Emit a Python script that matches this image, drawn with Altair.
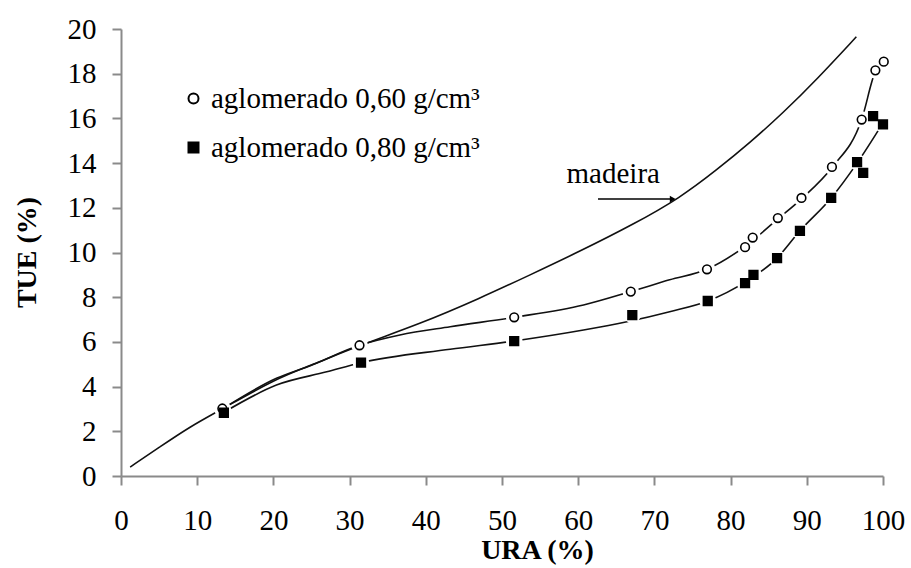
import altair as alt
import pandas as pd

# ---- data ----
madeira_x = [1.2, 5.1, 9, 13.3, 20.4, 25, 31.3, 39.2, 47.1, 53.7, 60.2, 67.2, 73.4, 78.2, 82.5, 86.9, 91.3, 96.5]
madeira_y = [0.4, 1.3, 2.2, 3.0, 4.37, 4.96, 5.85, 6.8, 7.95, 9.0, 10.05, 11.25, 12.45, 13.7, 14.9, 16.25, 17.74, 19.65]

c60_x = [13.3, 20.4, 25, 31.3, 36.6, 43.2, 51.6, 60.7, 66.9, 72.0, 76.9, 82.0, 86.2, 89.3, 93.3, 97.2, 99.0, 100.0]
c60_y = [3.0, 4.37, 4.96, 5.85, 6.31, 6.68, 7.1, 7.65, 8.25, 8.78, 9.25, 10.3, 11.5, 12.4, 13.8, 15.95, 18.1, 18.55]

c80_x = [13.5, 20.4, 27, 31.5, 43.2, 51.6, 60.7, 66.4, 72, 77, 82, 86.1, 89.1, 93.2, 96.6, 100]
c80_y = [2.85, 4.07, 4.66, 5.07, 5.67, 6.04, 6.53, 6.9, 7.35, 7.83, 8.7, 9.75, 10.97, 12.44, 14.0, 15.8]

p60_x = [13.3, 31.3, 51.6, 66.9, 76.9, 81.9, 82.9, 86.2, 89.3, 93.3, 97.2, 99.0, 100.1]
p60_y = [3.02, 5.85, 7.1, 8.25, 9.25, 10.24, 10.67, 11.54, 12.44, 13.83, 15.95, 18.15, 18.54]

p80_x = [13.5, 31.5, 51.6, 67.1, 77.0, 81.9, 83.0, 86.1, 89.1, 93.2, 96.6, 97.4, 98.7, 100.0]
p80_y = [2.83, 5.07, 6.04, 7.2, 7.83, 8.63, 9.0, 9.75, 10.97, 12.44, 14.04, 13.56, 16.1, 15.73]

label60 = "aglomerado 0,60 g/cm³"
label80 = "aglomerado 0,80 g/cm³"

madeira_label = ["madeira"]
madeira_label_x = [64.6]
madeira_label_y = [13.1]
arrow_x = [62.6]
arrow_x2 = [72.4]
arrow_y = [12.39]

x_ticks = list(range(0, 101, 10))
y_ticks = list(range(0, 21, 2))

FONT = "Times New Roman, Liberation Serif, serif"

# ---- tables ----
mad = pd.DataFrame({"x": madeira_x, "y": madeira_y})
mad["o"] = mad.index
curves = pd.concat([
    pd.DataFrame({"x": c60_x, "y": c60_y, "s": "c60"}),
    pd.DataFrame({"x": c80_x, "y": c80_y, "s": "c80"}),
], ignore_index=True)
curves["o"] = curves.index

pts = pd.concat([
    pd.DataFrame({"x": p60_x, "y": p60_y, "serie": label60}),
    pd.DataFrame({"x": p80_x, "y": p80_y, "serie": label80}),
], ignore_index=True)

ann = pd.DataFrame({"x": madeira_label_x, "y": madeira_label_y, "t": madeira_label})
arr = pd.DataFrame({"x": arrow_x, "x2": arrow_x2, "y": arrow_y})

xs = alt.Scale(domain=[0, 100], nice=False)
ys = alt.Scale(domain=[0, 20], nice=False)

X = alt.X("x:Q", scale=xs, axis=alt.Axis(
    values=x_ticks, title="URA (%)", titleX=416, titleY=82,
    titleAlign="center", titleBaseline="alphabetic", labelPadding=21))
Y = alt.Y("y:Q", scale=ys, axis=alt.Axis(
    values=y_ticks, title="TUE (%)", titleX=-94, titleY=223,
    titleAlign="center", titleBaseline="middle", titleAngle=270, labelPadding=16))

mad_line = alt.Chart(mad).mark_line(
    interpolate="basis", color="#111111", strokeWidth=1.6
).encode(x=X, y=Y, order="o:Q")

lines = alt.Chart(curves).mark_line(
    interpolate="monotone", color="#111111", strokeWidth=1.6
).encode(x="x:Q", y="y:Q", detail="s:N", order="o:Q")

halo = alt.Chart(pts).mark_point(
    filled=True, color="white", size=280, shape="circle", opacity=1
).encode(x="x:Q", y="y:Q")

dom = [label60, label80]
leg = alt.Legend(title=None, orient="none", legendX=58, legendY=55)
markers = alt.Chart(pts).mark_point(
    filled=True, strokeWidth=1.6, size=75, opacity=1
).encode(
    x="x:Q", y="y:Q",
    shape=alt.Shape("serie:N", scale=alt.Scale(domain=dom, range=["circle", "square"]), legend=leg),
    fill=alt.Fill("serie:N", scale=alt.Scale(domain=dom, range=["white", "black"]), legend=leg),
    stroke=alt.Stroke("serie:N", scale=alt.Scale(domain=dom, range=["black", "black"]), legend=leg),
)

text = alt.Chart(ann).mark_text(
    font=FONT, fontSize=29, align="center", baseline="alphabetic", color="black"
).encode(x="x:Q", y="y:Q", text="t:N")

arrow_line = alt.Chart(arr).mark_rule(color="black", strokeWidth=1.5).encode(
    x="x:Q", x2="x2:Q", y="y:Q")
arrow_head = alt.Chart(arr).mark_point(
    shape="triangle-right", filled=True, color="black", size=45, opacity=1
).encode(x="x2:Q", y="y:Q")

chart = alt.layer(mad_line, lines, halo, markers, arrow_line, arrow_head, text).properties(
    width=762, height=447,
    autosize=alt.AutoSizeParams(type="none"),
    padding={"left": 121, "top": 29, "right": 28, "bottom": 92},
    background="white",
).configure_view(stroke=None).configure_axis(
    grid=False, domainColor="#8a8a8a", domainWidth=2, tickColor="#8a8a8a",
    tickWidth=2, tickSize=9, labelFont=FONT, labelFontSize=29, labelColor="black",
    titleFont=FONT, titleFontSize=28, titleFontWeight="bold", titleColor="black",
    labelFlush=False, labelOverlap=False,
).configure_legend(
    labelFont=FONT, labelFontSize=29, labelColor="black",
    symbolStrokeWidth=2, symbolSize=100, rowPadding=19, labelOffset=3,
    labelLimit=0,
)

chart.save("out.html", embed_options={"renderer": "svg", "actions": False})
